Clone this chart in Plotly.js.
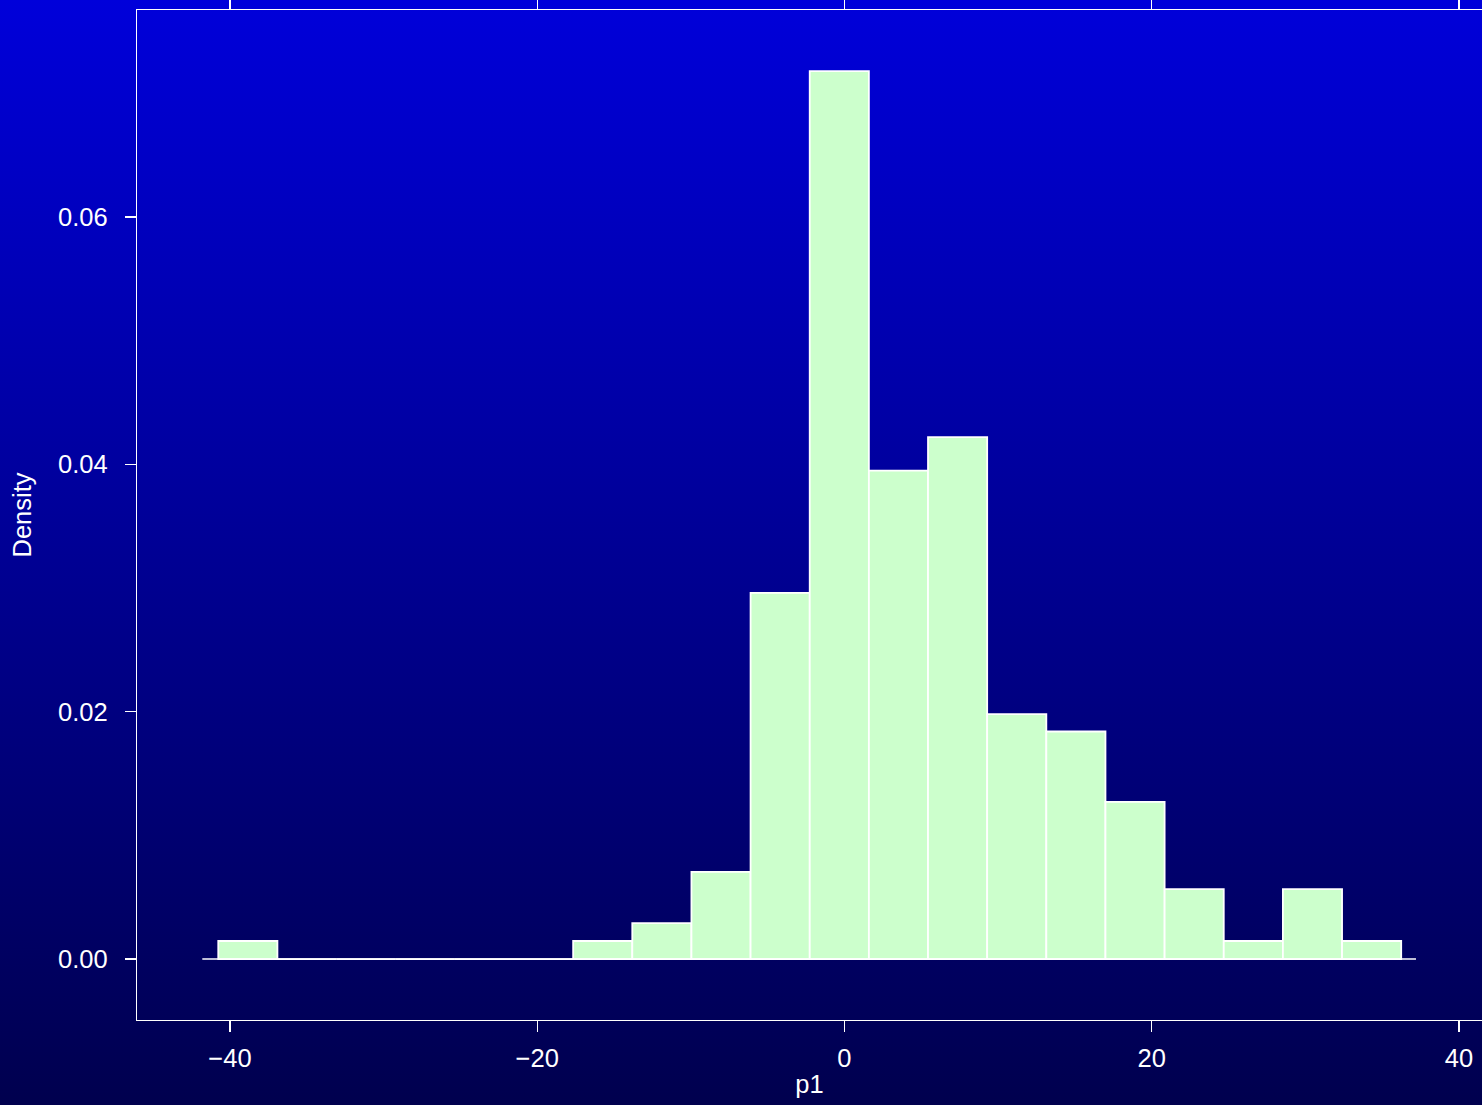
<!DOCTYPE html>
<html>
<head>
<meta charset="utf-8">
<script src="https://cdn.plot.ly/plotly-3.0.1.min.js"></script>
<style>
  html, body { margin: 0; padding: 0; overflow: hidden; }
  body { width: 1482px; height: 1105px; background: linear-gradient(to bottom, #0000DA 0%, #00004E 100%); }
  #chart { width: 1482px; height: 1105px; }
</style>
</head>
<body>
<div id="chart"></div>
<script>
// Histogram of p1: bin edges and density per bin
const binEdges = [-40.76, -36.91, -33.06, -29.21, -25.36, -21.51, -17.66, -13.81, -9.96, -6.11,
                  -2.26, 1.59, 5.44, 9.29, 13.14, 16.99, 20.84, 24.69, 28.54, 32.39, 36.24];
const densities = [0.00146, 0, 0, 0, 0, 0, 0.00146, 0.00291, 0.00704, 0.0296,
                   0.0718, 0.0395, 0.0422, 0.0198, 0.0184, 0.0127, 0.00566, 0.00146, 0.00566, 0.00146];
const xTicks = [-40, -20, 0, 20, 40];
const yTicks = [0, 0.02, 0.04, 0.06];
const xLabel = 'p1';
const yLabel = 'Density';

const centers = densities.map((_, i) => (binEdges[i] + binEdges[i + 1]) / 2);
const widths = densities.map((_, i) => binEdges[i + 1] - binEdges[i]);
const binW = widths[0];
const firstEdge = binEdges[0];
const lastEdge = binEdges[binEdges.length - 1];

const fontFamily = '"Liberation Sans", Arial, Helvetica, sans-serif';
const fontSize = 25.5;

const baseline = {
  type: 'scatter', mode: 'lines',
  x: [firstEdge - 0.27 * binW, lastEdge + 0.25 * binW],
  y: [0, 0],
  line: { color: '#FFFFFF', width: 1.5 },
  hoverinfo: 'skip', showlegend: false
};

const bars = {
  type: 'bar',
  x: centers, y: densities, width: widths,
  marker: { color: '#CCFFCC', line: { color: '#FFFFFF', width: 1.8 } },
  showlegend: false
};

const axisCommon = {
  showgrid: false, zeroline: false,
  showline: true, mirror: 'ticks', linecolor: '#FFFFFF', linewidth: 1.3,
  ticks: 'outside', ticklen: 11, tickwidth: 1.3, tickcolor: '#FFFFFF',
  tickfont: { family: fontFamily, size: fontSize, color: '#FFFFFF' },
  automargin: false
};

const layout = {
  width: 1482, height: 1105,
  margin: { l: 137, r: 0, t: 10, b: 85 },
  paper_bgcolor: 'rgba(0,0,0,0)', plot_bgcolor: 'rgba(0,0,0,0)',
  font: { family: fontFamily, size: fontSize, color: '#FFFFFF' },
  bargap: 0,
  xaxis: Object.assign({}, axisCommon, {
    range: [-46.05, 41.5], tickvals: xTicks, ticklabelstandoff: 4,
    title: { text: xLabel, font: { family: fontFamily, size: fontSize, color: '#FFFFFF' }, standoff: 4 }
  }),
  yaxis: Object.assign({}, axisCommon, {
    range: [-0.00493, 0.07674], tickvals: yTicks, tickformat: '.2f', ticklabelstandoff: 12,
    title: { text: yLabel, font: { family: fontFamily, size: fontSize, color: '#FFFFFF' }, standoff: 19 }
  })
};

Plotly.newPlot('chart', [baseline, bars], layout, { displayModeBar: false, staticPlot: true });
</script>
</body>
</html>
